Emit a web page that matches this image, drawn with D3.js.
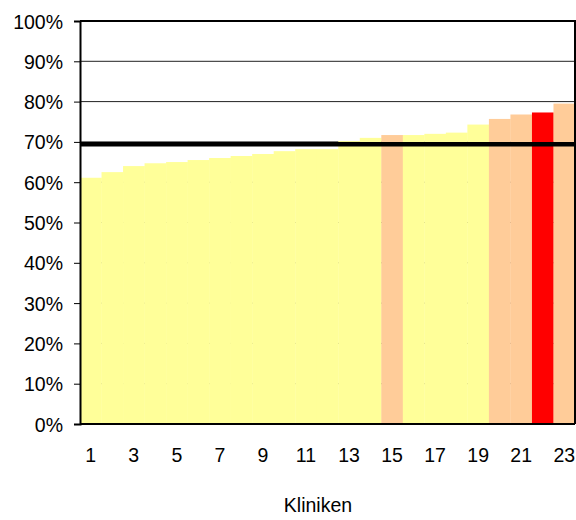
<!DOCTYPE html>
<head>
  <meta charset="utf-8">
  <script src="https://d3js.org/d3.v7.min.js"></script>
  <style>
    body { margin: 0; background: #fff; font-family: "Liberation Sans", Arial, sans-serif; }
    .tick text { font-size: 19.5px; fill: #000; }
  </style>
</head>
<body>
  <svg id="chart" width="576" height="520"></svg>
  <script>
    // values per clinic, in %
    const clinics = d3.range(1, 24);
    const values = [61.1, 62.5, 64.0, 64.7, 65.0, 65.5, 66.0, 66.5, 67.0, 67.7, 68.2, 68.2,
                    70.2, 71.0, 71.7, 71.7, 72.0, 72.3, 74.3, 75.7, 76.8, 77.3, 79.5];
    // 0 = yellow, 1 = orange, 2 = red
    const groups = [0,0,0,0,0,0,0,0,0,0,0,0,0,0,1,0,0,0,0,1,1,2,1];
    const colors = ["#ffff99", "#ffcc99", "#ff0000"];
    const refLine = 69.4;
    const yTicks = d3.range(0, 101, 10);
    const xLabels = clinics.filter(d => d % 2 === 1);

    const margin = {left: 80, right: 1, top: 21, bottom: 96};
    const svg = d3.select('#chart');
    const w = 576 - margin.left - margin.right;
    const h = 520 - margin.top - margin.bottom;
    const g = svg.append('g').attr('transform', `translate(${margin.left},${margin.top})`);

    const x = d3.scaleBand().domain(clinics).range([0, w]).padding(0);
    const y = d3.scaleLinear().domain([0, 100]).range([h, 0]);

    // grid
    g.selectAll('line.grid').data(yTicks.slice(1, -1)).enter().append('line')
      .attr('x1', 0).attr('x2', w)
      .attr('y1', d => y(d)).attr('y2', d => y(d))
      .attr('stroke', '#222').attr('stroke-width', 1);

    g.selectAll('rect.bar').data(values).enter().append('rect')
      .attr('x', (d, i) => x(clinics[i]))
      .attr('width', x.bandwidth() + 0.3)
      .attr('y', d => y(d))
      .attr('height', d => h - y(d))
      .attr('fill', (d, i) => colors[groups[i]]);

    // reference line
    g.append('line')
      .attr('x1', 0).attr('x2', w)
      .attr('y1', y(refLine)).attr('y2', y(refLine))
      .attr('stroke', '#000').attr('stroke-width', 4.5);

    // frame top / right
    g.append('path')
      .attr('d', `M0,${y(100)}H${w}V${h}`)
      .attr('fill', 'none').attr('stroke', '#000').attr('stroke-width', 2);

    const yAxis = g.append('g')
      .call(d3.axisLeft(y).tickValues(yTicks).tickFormat(d => d + '%').tickSize(6).tickPadding(11));
    yAxis.select('.domain').attr('stroke-width', 2);
    yAxis.selectAll('.tick text').attr('dy', '0.36em');

    g.append('line').attr('x1', 0).attr('x2', w).attr('y1', h).attr('y2', h)
      .attr('stroke', '#000').attr('stroke-width', 2);

    g.selectAll('text.xl').data(xLabels).enter().append('text')
      .attr('x', d => x(d) + x.bandwidth() / 2)
      .attr('y', h + 38)
      .attr('text-anchor', 'middle')
      .attr('font-size', 19.5)
      .text(d => d);

    svg.append('text')
      .attr('x', 318).attr('y', 512)
      .attr('text-anchor', 'middle')
      .attr('font-size', 19.5)
      .text('Kliniken');
  </script>
</body>
